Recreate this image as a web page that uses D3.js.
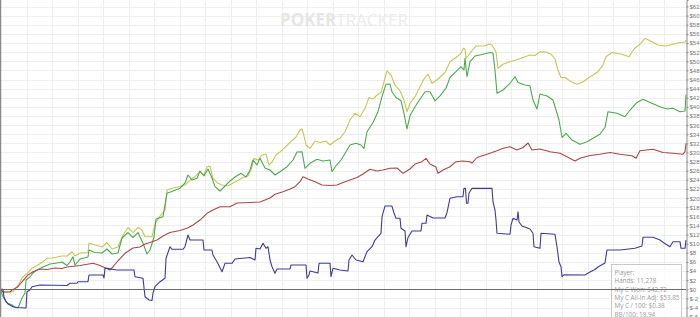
<!DOCTYPE html>
<html><head><meta charset="utf-8">
<script src="https://cdn.jsdelivr.net/npm/d3@7"></script>
<style>html,body{margin:0;padding:0;background:#fff;overflow:hidden}</style>
</head><body><svg id="chart" width="700" height="317"></svg>
<script>
// ---------- data ----------
const totalHands = 11278;
const gridStepHands = 420;
const yMin = -6.07, yMax = 63.43;
const yTicks = d3.range(-6, 63, 2);
const legendLines = ["Player:", "Hands: 11,278", "My C Won: $42.72", "My C All-In Adj: $53.85", "My C / 100: $0.38", "BB/100: 18.94"];

// green: My C Won
const myCWon = [[0,-0.53],[33,-1.62],[66,-2.35],[115,-3.07],[181,-3.44],[230,-3.99],[280,-4.1],[313,-3.0],[346,-1.91],[395,-0.81],[412,2.04],[477,2.7],[527,3.57],[593,4.23],[691,4.89],[807,5.55],[922,5.77],[1004,5.99],[1087,5.22],[1136,5.99],[1185,7.15],[1218,5.33],[1301,6.64],[1432,7.08],[1449,8.62],[1548,8.07],[1663,7.96],[1745,8.84],[1828,7.74],[1926,7.96],[1992,11.25],[2091,12.45],[2173,11.36],[2256,12.45],[2338,10.09],[2404,7.74],[2453,8.62],[2519,11.47],[2552,15.41],[2667,15.92],[2733,21.05],[2832,21.55],[2947,22.14],[3029,23.31],[3079,25.06],[3145,23.96],[3227,24.34],[3276,25.94],[3342,24.84],[3408,26.38],[3474,24.4],[3523,22.5],[3606,21.55],[3688,22.65],[3770,23.74],[3853,24.62],[3951,25.43],[4034,24.62],[4100,26.16],[4149,28.35],[4215,27.25],[4264,28.72],[4346,26.6],[4429,26.16],[4511,25.06],[4593,25.78],[4709,26.88],[4808,28.35],[4873,30.1],[4956,30.17],[5005,26.53],[5087,27.63],[5203,28.52],[5301,28.13],[5417,28.35],[5450,25.78],[5515,27.08],[5598,28.35],[5680,30.17],[5746,31.64],[5845,32.01],[5927,31.64],[5976,30.91],[6026,34.55],[6125,36.57],[6207,38.94],[6273,42.23],[6339,44.97],[6404,45.01],[6437,43.32],[6503,42.05],[6586,41.33],[6635,38.59],[6684,35.15],[6734,38.04],[6816,40.04],[6899,41.68],[6981,43.32],[7063,43.32],[7145,41.33],[7228,42.42],[7326,44.07],[7392,46.44],[7491,47.71],[7573,48.8],[7622,48.08],[7639,50.65],[7672,46.61],[7722,49.9],[7804,51.15],[7936,51.55],[8051,51.92],[8100,51.81],[8133,48.08],[8166,42.97],[8265,43.7],[8380,45.17],[8463,46.61],[8512,45.34],[8627,44.79],[8709,44.62],[8759,41.5],[8825,39.53],[8874,42.82],[8990,42.38],[9088,41.5],[9138,39.31],[9187,37.12],[9237,33.28],[9303,34.2],[9401,32.73],[9533,31.81],[9648,32.36],[9747,33.11],[9862,34.01],[9944,35.47],[9994,38.94],[10142,38.59],[10273,37.84],[10357,39.31],[10471,40.96],[10570,41.68],[10685,40.96],[10850,40.04],[10965,39.53],[11064,39.68],[11179,38.94],[11262,39.09],[11278,42.72]];

// yellow: My C All-In Adj
const allInAdj = [[0,-0.15],[49,-0.59],[198,-0.53],[230,0.07],[280,0.94],[313,1.6],[346,2.48],[428,3.51],[510,4.6],[593,5.22],[675,5.88],[757,6.8],[840,6.86],[922,7.08],[1004,7.3],[1087,7.3],[1169,8.24],[1218,7.3],[1301,7.96],[1432,8.07],[1449,10.09],[1548,9.71],[1663,9.27],[1745,10.26],[1828,8.84],[1926,9.27],[2009,11.91],[2091,13.55],[2173,12.45],[2256,13.55],[2321,13.0],[2371,11.53],[2486,11.53],[2535,14.32],[2618,16.07],[2700,17.39],[2733,21.77],[2832,22.21],[2947,22.54],[3029,22.87],[3112,23.96],[3194,24.69],[3276,25.78],[3342,25.06],[3392,26.88],[3441,27.03],[3490,24.34],[3573,23.24],[3639,22.87],[3737,22.65],[3820,23.31],[3886,23.74],[3984,24.51],[4067,24.84],[4116,26.16],[4165,28.72],[4231,28.35],[4297,29.45],[4363,29.66],[4412,27.25],[4462,27.91],[4528,29.45],[4593,30.1],[4659,30.91],[4758,32.19],[4857,33.39],[4923,34.93],[4956,35.15],[4989,33.61],[5022,31.64],[5087,30.91],[5170,32.51],[5252,32.19],[5351,32.51],[5417,31.64],[5483,32.36],[5581,33.11],[5664,34.55],[5746,37.12],[5828,38.59],[5911,37.84],[5993,39.68],[6059,42.05],[6125,41.72],[6190,42.6],[6256,43.15],[6306,45.52],[6355,47.91],[6421,46.98],[6487,44.79],[6569,43.52],[6635,41.5],[6684,38.94],[6734,40.78],[6816,42.23],[6899,44.42],[6964,46.11],[7030,47.2],[7096,45.17],[7195,46.11],[7310,47.53],[7392,49.9],[7491,50.82],[7573,51.74],[7614,52.84],[7639,52.69],[7656,50.65],[7688,51.15],[7738,52.09],[7820,53.34],[7952,53.34],[8034,53.74],[8084,53.56],[8150,52.03],[8183,48.45],[8265,49.35],[8380,49.9],[8479,50.27],[8595,50.82],[8709,51.37],[8792,51.26],[8874,52.09],[8973,52.03],[9055,51.55],[9121,50.49],[9170,48.08],[9220,46.44],[9286,46.44],[9385,45.52],[9483,44.97],[9582,45.45],[9681,46.44],[9829,47.71],[9911,49.18],[9961,51.0],[10060,51.92],[10224,51.55],[10339,51.0],[10422,52.69],[10520,53.74],[10603,55.03],[10685,54.48],[10817,53.56],[10949,53.34],[11064,53.74],[11179,54.11],[11262,54.22],[11278,54.66]];

// red: non-showdown winnings
const nonShowdown = [[0,-0.15],[33,-0.59],[148,-0.59],[181,-0.15],[230,0.18],[280,0.57],[329,1.38],[395,2.41],[445,3.14],[527,3.86],[642,4.45],[757,4.34],[889,4.67],[1004,4.56],[1087,4.89],[1301,5.22],[1515,5.7],[1630,5.22],[1795,4.23],[1910,5.99],[2042,7.89],[2173,9.05],[2288,9.27],[2371,9.93],[2453,10.26],[2568,10.81],[2667,11.69],[2782,12.45],[2947,12.89],[3062,13.37],[3161,14.1],[3276,15.19],[3392,16.66],[3490,17.39],[3606,18.11],[3770,18.11],[3886,18.92],[4100,19.03],[4264,19.14],[4429,20.02],[4511,20.85],[4643,21.4],[4758,21.99],[4840,22.5],[4923,23.59],[4972,24.69],[5054,24.18],[5170,23.59],[5285,22.87],[5417,22.76],[5532,22.87],[5631,23.42],[5746,23.96],[5861,24.51],[5960,25.28],[6075,26.33],[6190,25.94],[6289,26.16],[6404,26.53],[6520,26.6],[6618,25.43],[6734,26.38],[6816,27.47],[6931,27.98],[6997,28.72],[7063,27.47],[7162,26.81],[7195,25.43],[7277,26.16],[7392,26.88],[7491,27.98],[7606,28.13],[7722,27.98],[7754,27.69],[7837,28.9],[8002,29.62],[8166,30.37],[8265,30.91],[8380,31.27],[8496,30.54],[8595,31.09],[8677,32.08],[8742,30.54],[8874,30.76],[9039,30.17],[9203,29.82],[9319,29.07],[9450,28.13],[9533,28.72],[9697,29.34],[9862,29.62],[10027,29.99],[10191,29.62],[10389,29.27],[10455,28.72],[10520,30.37],[10734,30.72],[10899,29.99],[11064,29.82],[11229,29.62],[11262,30.17],[11278,32.01]];

// blue: showdown winnings
const showdown = [[0,0],[33,0],[49,-1.69],[82,-2.72],[115,-3.22],[198,-3.81],[280,-3.99],[412,-4.1],[428,-0.53],[477,-0.15],[510,0.57],[642,0.94],[1087,0.83],[1136,1.32],[1251,1.32],[1268,1.67],[1432,1.67],[1449,3.14],[1679,3.14],[1696,2.48],[1712,4.6],[1745,4.6],[1910,4.23],[2190,4.23],[2206,2.76],[2338,2.41],[2371,-1.62],[2437,-2.35],[2486,-2.46],[2503,-0.81],[2535,0.57],[2618,1.67],[2700,2.41],[2717,6.8],[2782,9.34],[2815,8.77],[2996,8.77],[3029,9.34],[3079,11.91],[3112,10.81],[3326,10.81],[3342,8.62],[3474,8.62],[3490,7.52],[3556,6.05],[3639,3.86],[3688,5.7],[3803,5.7],[3853,6.64],[4100,6.97],[4182,6.42],[4198,8.99],[4264,8.84],[4314,10.09],[4363,8.99],[4396,9.34],[4429,6.42],[4462,4.96],[4511,3.51],[4544,4.45],[4758,4.45],[4775,5.33],[5022,5.33],[5038,2.41],[5071,3.14],[5087,4.01],[5219,3.57],[5236,5.7],[5417,5.7],[5433,2.76],[5466,4.6],[5581,4.23],[5713,4.01],[5729,6.42],[5779,7.52],[5845,6.42],[5960,6.05],[6026,8.24],[6108,9.34],[6158,10.81],[6207,11.53],[6256,12.28],[6273,15.92],[6322,18.26],[6437,18.26],[6470,16.73],[6503,15.57],[6569,15.57],[6586,13.37],[6652,12.78],[6668,9.34],[6701,11.36],[6767,12.78],[6915,12.78],[6931,14.47],[6997,14.47],[7014,16.29],[7112,15.63],[7310,15.63],[7343,16.79],[7392,19.95],[7507,20.3],[7606,20.3],[7622,22.14],[7647,22.14],[7664,18.86],[7688,18.86],[7705,21.05],[7754,22.14],[8084,22.14],[8100,19.21],[8133,17.39],[8150,15.19],[8166,12.28],[8380,12.06],[8397,14.1],[8430,15.57],[8496,15.19],[8512,17.01],[8529,14.76],[8578,13.88],[8709,13.22],[8759,12.28],[8775,9.34],[8874,8.99],[8891,12.28],[9121,12.06],[9154,9.34],[9187,5.99],[9220,4.96],[9237,2.76],[9270,3.2],[9615,3.14],[9697,3.79],[9780,4.34],[9829,4.89],[9944,5.77],[9977,8.62],[10191,8.62],[10438,8.99],[10553,9.49],[10570,11.4],[10734,11.4],[10850,10.81],[10916,10.15],[11014,9.34],[11064,10.44],[11179,10.44],[11196,8.99],[11262,8.99],[11278,10.81]];

const seriesList = [
  {name: "All-In Adj", data: allInAdj, color: "#c6c655"},
  {name: "Won", data: myCWon, color: "#4caa4c"},
  {name: "Non-Showdown", data: nonShowdown, color: "#a84848"},
  {name: "Showdown", data: showdown, color: "#3c3c96"}
];

// ---------- drawing ----------
const W = 700, H = 317;
const plotLeft = 1, plotRight = 686;
const svg = d3.select("#chart");
const x = d3.scaleLinear().domain([0, totalHands]).range([plotLeft, plotRight]);
const y = d3.scaleLinear().domain([yMin, yMax]).range([H, 0]);

// grid
const grid = svg.append("g").attr("shape-rendering", "crispEdges");
grid.selectAll("line.h").data(yTicks).join("line")
  .attr("x1", plotLeft).attr("x2", plotRight)
  .attr("y1", d => Math.round(y(d)) + 0.5).attr("y2", d => Math.round(y(d)) + 0.5)
  .attr("stroke", "#eeeeee");
grid.selectAll("line.v").data(d3.range(gridStepHands, totalHands, gridStepHands)).join("line")
  .attr("x1", d => Math.round(x(d)) + 0.5).attr("x2", d => Math.round(x(d)) + 0.5)
  .attr("y1", 0).attr("y2", H)
  .attr("stroke", "#eeeeee");

// watermark
const wm = svg.append("text").attr("x", 280).attr("y", 26)
  .style("font-family", "'Open Sans', sans-serif").style("font-size", "17px");
wm.append("tspan").text("POKER").style("font-weight", "700").attr("fill", "#e6e6e6");
wm.append("tspan").text("TRACKER").style("font-weight", "400").attr("fill", "#ececec");

// left border
svg.append("line").attr("x1", 0.5).attr("x2", 0.5).attr("y1", 0).attr("y2", H)
  .attr("stroke", "#8a8a8a").attr("stroke-width", 1.5);

// lines
const line = d3.line().x(d => x(d[0])).y(d => y(d[1]));
svg.append("g").selectAll("path").data(seriesList).join("path")
  .attr("d", d => line(d.data))
  .attr("fill", "none")
  .attr("stroke", d => d.color)
  .attr("stroke-width", 1.1)
  .attr("stroke-linejoin", "round");

// legend box
const lg = svg.append("g");
lg.append("rect").attr("x", 611.5).attr("y", 264.5).attr("width", 70).attr("height", 70)
  .attr("fill", "rgba(255,255,255,0.75)").attr("stroke", "#c8c8c8");

// zero line
svg.append("line").attr("x1", plotLeft).attr("x2", plotRight)
  .attr("y1", Math.round(y(0)) + 0.5).attr("y2", Math.round(y(0)) + 0.5)
  .attr("stroke", "#6a6a6a").attr("shape-rendering", "crispEdges");

lg.selectAll("text").data(legendLines).join("text")
  .attr("x", 614.5).attr("y", (d, i) => 275 + i * 8.3)
  .attr("fill", "#9a9a9a")
  .style("font-family", "'Open Sans', sans-serif").style("font-size", "6.3px")
  .text(d => d);

// right axis
const axis = svg.append("g").attr("transform", `translate(${plotRight + 0.5},0)`)
  .call(d3.axisRight(y).tickValues(yTicks).tickSize(2).tickPadding(1).tickFormat(d => "$" + d));
axis.select(".domain").attr("stroke", "#8a8a8a");
axis.selectAll(".tick line").attr("stroke", "#8a8a8a");
axis.selectAll(".tick text").attr("fill", "#777")
  .style("font-family", "'Liberation Sans', Arial, sans-serif").style("font-size", "6px");
</script>
</body></html>
